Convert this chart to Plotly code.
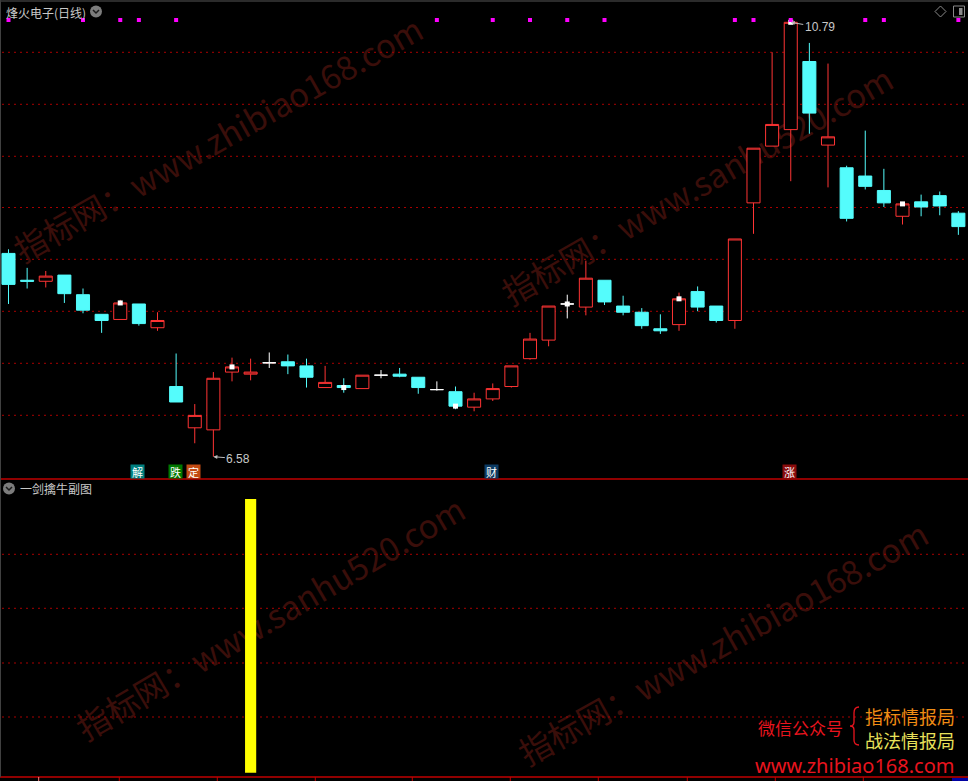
import plotly.graph_objects as go

W, H = 968, 781

# ---------------- data ----------------
opens = [8.55, 8.29, 8.28, 8.34, 8.15, 7.96, 7.91, 8.06, 7.83, 7.26,
         6.86, 6.84, 7.40, 7.38, 7.49, 7.50, 7.46, 7.25, 7.27, 7.24,
         7.37, 7.38, 7.35, 7.23, 7.21, 7.06, 7.14, 7.26, 7.53, 7.71,
         8.06, 8.03, 8.29, 8.04, 7.98, 7.82, 7.86, 8.18, 8.04, 7.90,
         9.04, 9.59, 9.75, 10.41, 9.60, 9.38, 9.30, 9.16, 8.91, 9.05,
         9.11, 8.94]
closes = [8.25, 8.28, 8.33, 8.16, 8.00, 7.90, 8.07, 7.87, 7.90, 7.11,
          6.98, 7.34, 7.45, 7.40, 7.49, 7.46, 7.35, 7.30, 7.25, 7.37,
          7.37, 7.36, 7.25, 7.23, 7.07, 7.14, 7.24, 7.46, 7.72, 8.04,
          8.06, 8.31, 8.08, 7.98, 7.85, 7.80, 8.11, 8.03, 7.90, 8.69,
          9.57, 9.80, 10.79, 9.91, 9.68, 8.89, 9.20, 9.04, 9.03, 9.00,
          9.01, 8.81]
highs = [8.59, 8.41, 8.38, 8.34, 8.21, 7.96, 8.10, 8.06, 7.98, 7.58,
         7.09, 7.40, 7.54, 7.53, 7.59, 7.57, 7.53, 7.46, 7.34, 7.37,
         7.42, 7.44, 7.35, 7.31, 7.26, 7.20, 7.29, 7.46, 7.78, 8.04,
         8.15, 8.48, 8.29, 8.14, 8.02, 7.96, 8.17, 8.23, 8.04, 8.69,
         9.57, 10.50, 10.79, 10.59, 10.39, 9.40, 9.74, 9.37, 9.04, 9.12,
         9.15, 8.96]
lows = [8.06, 8.21, 8.22, 8.07, 7.97, 7.78, 7.91, 7.85, 7.80, 7.11,
        6.71, 6.58, 7.31, 7.32, 7.44, 7.38, 7.25, 7.25, 7.20, 7.24,
        7.34, 7.35, 7.19, 7.22, 7.04, 7.02, 7.12, 7.25, 7.52, 7.65,
        7.92, 7.95, 8.05, 7.95, 7.82, 7.77, 7.80, 7.99, 7.88, 7.82,
        8.74, 9.59, 9.25, 9.71, 9.19, 8.86, 9.17, 9.00, 8.83, 8.91,
        8.92, 8.73]

# every-6th-bar white markers (at close)
mark_idx = [6, 12, 18, 24, 30, 36, 42, 48]
# magenta signal dots along the top
sig_idx = [0, 4, 6, 7, 9, 23, 26, 28, 30, 32, 39, 40, 42, 46, 47, 51]
# event labels under the candles
label_text = ["解", "跌", "定", "财", "涨"]
label_idx = [7, 9, 10, 26, 42]
label_bg = ["#008080", "#007800", "#C24A12", "#0C3A62", "#8A0C0C"]
# sub-chart indicator bar
bar_idx = [13]
bar_val = [100]
# price marks
hi_idx, hi_val = 42, 10.79
lo_idx, lo_val = 11, 6.58

title_main = "烽火电子(日线)"
title_sub = "一剑擒牛副图"

RED = "#FF3434"
CYAN = "#54FCFC"
WHITE = "#FFFFFF"
GRID = "#A80000"
CJK = "Noto Sans CJK SC"

n = len(opens)


def py(y):
    return 1 - y / H


def px(x):
    return x / W


def sub(arr, idx):
    return [arr[i] for i in idx]


up = [i for i in range(n) if closes[i] > opens[i]]
dn = [i for i in range(n) if closes[i] < opens[i]]
dj = [i for i in range(n) if closes[i] == opens[i]]

fig = go.Figure()
for idx, col, fill in [(up, RED, "#000000"), (dn, CYAN, CYAN), (dj, WHITE, WHITE)]:
    fig.add_trace(go.Candlestick(
        x=idx, open=sub(opens, idx), high=sub(highs, idx),
        low=sub(lows, idx), close=sub(closes, idx),
        increasing=dict(line=dict(color=col, width=1), fillcolor=fill),
        decreasing=dict(line=dict(color=col, width=1), fillcolor=fill),
        whiskerwidth=0, hoverinfo="skip", showlegend=False,
        xaxis="x", yaxis="y"))

# price axis (top panel) geometry
y_lo, y_hi = 6.3638, 11.0061
per_px = (y_hi - y_lo) / 479.0

fig.add_trace(go.Scatter(
    x=mark_idx, y=sub(closes, mark_idx), mode="markers",
    marker=dict(symbol="square", size=5, color=WHITE, line=dict(width=0)),
    hoverinfo="skip", showlegend=False, xaxis="x", yaxis="y"))

fig.add_trace(go.Scatter(
    x=sig_idx, y=[y_hi - 20 * per_px] * len(sig_idx), mode="markers",
    marker=dict(symbol="square", size=4, color="#FF00FF", line=dict(width=0)),
    hoverinfo="skip", showlegend=False, xaxis="x", yaxis="y"))

fig.add_trace(go.Bar(
    x=bar_idx, y=bar_val, width=0.6,
    marker=dict(color="#FFFF00", line=dict(width=0)),
    hoverinfo="skip", showlegend=False, xaxis="x2", yaxis="y2"))

xr = [-0.4564, 51.517]
fig.update_layout(
    width=W, height=H, autosize=False,
    margin=dict(l=0, r=0, t=0, b=0, pad=0),
    paper_bgcolor="#000000", plot_bgcolor="rgba(0,0,0,0)",
    boxgap=0.3, boxgroupgap=0.0,
    showlegend=False,
    xaxis=dict(domain=[0, 1], range=xr, visible=False, anchor="y",
               rangeslider=dict(visible=False), fixedrange=True),
    yaxis=dict(domain=[py(479), 1], range=[y_lo, y_hi], visible=False,
               anchor="x", fixedrange=True),
    xaxis2=dict(domain=[0, 1], range=xr, visible=False, anchor="y2",
                fixedrange=True),
    yaxis2=dict(domain=[py(777), py(479)], range=[-1.571, 107.31],
                visible=False, anchor="x2", fixedrange=True),
)

shapes = []
# watermarks (behind everything)
wm = [("指标网：www.zhibiao168.com", (20, 255), (420, 30)),
      ("指标网：www.sanhu520.com", (505, 300), (893, 78)),
      ("指标网：www.sanhu520.com", (80, 735), (465, 508)),
      ("指标网：www.zhibiao168.com", (525, 758), (925, 535))]
for txt, a, b in wm:
    shapes.append(dict(
        type="line", xref="paper", yref="paper",
        x0=px(a[0]), y0=py(a[1]), x1=px(b[0]), y1=py(b[1]),
        line=dict(color="rgba(0,0,0,0)", width=0), layer="below",
        label=dict(text=txt, textposition="middle", yanchor="middle",
                   font=dict(family=CJK, size=33, color="#3A0E0A"))))

# dotted grid lines
for yy in [52.3, 104.3, 156.3, 207.5, 259.3, 311.3, 363.3, 415.3,
           554.3, 608.3, 663, 717]:
    shapes.append(dict(type="line", xref="paper", yref="paper",
                       x0=px(2), x1=1, y0=py(yy), y1=py(yy), layer="below",
                       line=dict(color=GRID, width=1, dash="2px,4px")))
# panel separators
for yy in [479, 777]:
    shapes.append(dict(type="line", xref="paper", yref="paper",
                       x0=0, x1=1, y0=py(yy), y1=py(yy),
                       line=dict(color="#C00000", width=1.5)))
# borders
shapes.append(dict(type="line", xref="paper", yref="paper",
                   x0=px(0.5), x1=px(0.5), y0=py(0), y1=py(777),
                   line=dict(color="#404040", width=1)))
shapes.append(dict(type="line", xref="paper", yref="paper",
                   x0=0, x1=1, y0=py(1), y1=py(1),
                   line=dict(color="#3A3A3A", width=1.5)))
# bottom axis ticks
for xx in [119.3, 217.3, 315.3, 412.3, 510.3, 598.3, 687.3, 775.3, 863.3]:
    shapes.append(dict(type="line", xref="paper", yref="paper",
                       x0=px(xx), x1=px(xx), y0=py(777), y1=py(781),
                       line=dict(color="#C00000", width=1)))
shapes.append(dict(type="line", xref="paper", yref="paper",
                   x0=px(38.7), x1=px(38.7), y0=py(777), y1=py(781),
                   line=dict(color="#FF8080", width=1)))
shapes.append(dict(type="rect", xref="paper", yref="paper",
                   x0=px(952), x1=1, y0=py(781), y1=py(778),
                   fillcolor="#0000A0", line=dict(width=0)))

# round dropdown icons
for cx, cy in [(96, 11.5), (9, 488.5)]:
    shapes.append(dict(type="circle", xref="paper", yref="paper",
                       x0=px(cx - 6), x1=px(cx + 6), y0=py(cy + 6), y1=py(cy - 6),
                       fillcolor="#7C7C7C", line=dict(width=0)))
    shapes.append(dict(type="path", xref="paper", yref="paper",
                       path=f"M {px(cx-3)},{py(cy-1.5)} L {px(cx)},{py(cy+1.5)} L {px(cx+3)},{py(cy-1.5)}",
                       line=dict(color="#1A1A1A", width=1.5)))
# top-right icons
shapes.append(dict(type="path", xref="paper", yref="paper",
                   path=f"M {px(940.5)},{py(6)} L {px(946)},{py(11.5)} L {px(940.5)},{py(17)} L {px(935)},{py(11.5)} Z",
                   line=dict(color="#8A8A8A", width=1)))
shapes.append(dict(type="rect", xref="paper", yref="paper",
                   x0=px(953.5), x1=px(964.5), y0=py(17), y1=py(6),
                   line=dict(color="#8A8A8A", width=1)))
shapes.append(dict(type="rect", xref="paper", yref="paper",
                   x0=px(959), x1=px(962.5), y0=py(15), y1=py(8),
                   fillcolor="#8A8A8A", line=dict(width=0)))
# brace
path = (f"M {px(859)},{py(707)} Q {px(854)},{py(707)} {px(854)},{py(713)} "
        f"L {px(854)},{py(722)} Q {px(854)},{py(726)} {px(850)},{py(726)} "
        f"Q {px(854)},{py(726)} {px(854)},{py(730)} L {px(854)},{py(740)} "
        f"Q {px(854)},{py(745)} {px(859)},{py(745)}")
shapes.append(dict(type="path", xref="paper", yref="paper", path=path,
                   line=dict(color="#E8141E", width=1.3)))

fig.update_layout(shapes=shapes)

ann = []
ann.append(dict(xref="paper", yref="paper", x=px(4), y=py(12), xanchor="left",
                yanchor="middle", text=title_main, showarrow=False,
                font=dict(family=CJK, size=12, color="#C8C8C8")))
ann.append(dict(xref="paper", yref="paper", x=px(18), y=py(488.5), xanchor="left",
                yanchor="middle", text=title_sub, showarrow=False,
                font=dict(family=CJK, size=12, color="#C8C8C8")))
for t, i, bg in zip(label_text, label_idx, label_bg):
    ann.append(dict(xref="x", yref="paper", x=i - 0.06, y=py(471.5),
                    xanchor="center", yanchor="middle", text=t, showarrow=False,
                    width=13, height=13, bgcolor=bg, borderpad=0,
                    font=dict(family=CJK, size=11, color="#FFFFFF")))
ann.append(dict(xref="x", yref="y", x=hi_idx, y=hi_val, text=f"{hi_val:.2f}",
                showarrow=True, ax=29, ay=5, arrowhead=2, arrowsize=0.8,
                arrowwidth=1, arrowcolor="#BDBDBD", standoff=0,
                font=dict(family="Liberation Sans", size=12, color="#C8C8C8")))
ann.append(dict(xref="x", yref="y", x=lo_idx, y=lo_val, text=f"{lo_val:.2f}",
                showarrow=True, ax=25, ay=2, arrowhead=2, arrowsize=0.8,
                arrowwidth=1, arrowcolor="#BDBDBD", standoff=0,
                font=dict(family="Liberation Sans", size=12, color="#C8C8C8")))
# promo text
promo = [("微信公众号", 800, 727, 17, "#E8141E", CJK),
         ("指标情报局", 910, 716, 18, "#F08C14", CJK),
         ("战法情报局", 910, 740, 18, "#E8E05A", CJK),
         ("www.zhibiao168.com", 855, 765, 20, "#E8141E", "Noto Sans")]
for t, x, y, s, c, f in promo:
    ann.append(dict(xref="paper", yref="paper", x=px(x), y=py(y), text=t,
                    xanchor="center", yanchor="middle", showarrow=False,
                    font=dict(family=f, size=s, color=c)))
fig.update_layout(annotations=ann)

fig.write_html("out.html", config={"displayModeBar": False},
               post_script="document.body.style.margin='0';document.body.style.overflow='hidden';")
